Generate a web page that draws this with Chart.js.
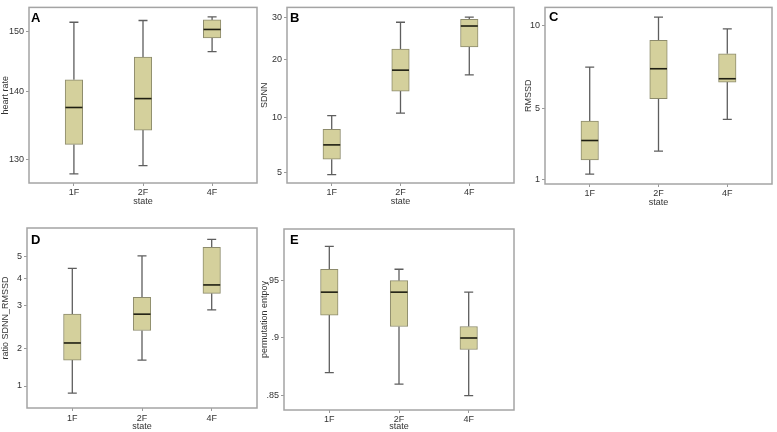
<!DOCTYPE html>
<html><head><meta charset="utf-8">
<script src="https://cdn.jsdelivr.net/npm/chart.js@4.4.1/dist/chart.umd.min.js"></script>
<style>
html,body{margin:0;padding:0;background:#fff;}
#wrap{position:relative;width:777px;height:432px;overflow:hidden;background:#fff;}
canvas{position:absolute;display:block;}
</style></head><body>
<div id="wrap">
<canvas id="cA" width="259" height="216" style="left:0;top:0"></canvas>
<canvas id="cB" width="259" height="216" style="left:259px;top:0"></canvas>
<canvas id="cC" width="259" height="216" style="left:518px;top:0"></canvas>
<canvas id="cD" width="259" height="216" style="left:0;top:216px"></canvas>
<canvas id="cE" width="259" height="216" style="left:259px;top:216px"></canvas>
</div>
<script>
// ---- data: each entry = [lower whisker, Q1, median, Q3, upper whisker] per state ----
const categories = ['1F', '2F', '4F'];
const heartRate = [[127.9, 132.2, 137.6, 141.9, 151.5], [129.1, 134.3, 138.9, 145.7, 151.8], [146.6, 148.9, 150.3, 151.9, 152.4]];
const sdnn = [[4.8, 6.2, 7.5, 8.9, 10.3], [10.7, 14.5, 18.1, 22.4, 28.8], [17.3, 22.9, 27.9, 29.5, 30.0]];
const rmssd = [[1.3, 2.1, 3.2, 4.3, 7.5], [2.6, 5.6, 7.4, 9.1, 10.5], [4.4, 6.6, 6.8, 8.3, 9.8]];
const ratioSdnnRmssd = [[0.81, 1.70, 2.14, 2.81, 4.48], [1.70, 2.43, 2.81, 3.32, 5.04], [2.91, 3.47, 3.78, 5.42, 5.78]];
const permEntropy = [[0.87, 0.92, 0.94, 0.96, 0.98], [0.86, 0.91, 0.94, 0.95, 0.96], [0.85, 0.89, 0.90, 0.91, 0.94]];
// ---- tick labels ----
const heartRateTicks = [130, 140, 150];
const sdnnTicks = [5, 10, 20, 30];
const rmssdTicks = [1, 5, 10];
const ratioTicks = [1, 2, 3, 4, 5];
const entropyTicks = [0.85, 0.9, 0.95];
const entropyTickLabels = ['.85', '.9', '.95'];

// piecewise axis (the original axis spacing between labelled ticks is uneven)
class PiecewiseScale extends Chart.LinearScale {
  static id = 'piecewise';
  static defaults = {};
  buildTicks() { return this.options.tickValues.map(v => ({ value: v })); }
  _frac(v) {
    const k = this.options.knotFracs, t = this.options.tickValues;
    let i = 0;
    if (v <= t[0]) i = 0;
    else if (v >= t[t.length - 1]) i = t.length - 2;
    else { while (v > t[i + 1]) i++; }
    return k[i] + (v - t[i]) * (k[i + 1] - k[i]) / (t[i + 1] - t[i]);
  }
  getPixelForValue(v) { return this.getPixelForDecimal(this._frac(v)); }
  getValueForPixel(p) {
    const d = this.getDecimalForPixel(p), k = this.options.knotFracs, t = this.options.tickValues;
    let i = 0;
    if (d <= k[0]) i = 0; else if (d >= k[k.length - 1]) i = k.length - 2; else { while (d > k[i + 1]) i++; }
    return t[i] + (d - k[i]) * (t[i + 1] - t[i]) / (k[i + 1] - k[i]);
  }
}
Chart.register(PiecewiseScale);

const FONT = 'Liberation Sans, Arial, sans-serif';
const TXT = '#333333';

const boxPlugin = {
  id: 'boxPlugin',
  beforeDatasetsDraw(chart) {
    const stats = chart.options.plugins.boxPlugin.stats;
    const x = chart.scales.x, y = chart.scales.y, ctx = chart.ctx;
    ctx.save();
    ctx.strokeStyle = '#5e5e5e'; ctx.lineWidth = 1.3;
    stats.forEach((s, i) => {
      const cx = x.getPixelForValue(i + 1);
      const yMin = y.getPixelForValue(s[0]), yQ1 = y.getPixelForValue(s[1]);
      const yQ3 = y.getPixelForValue(s[3]), yMax = y.getPixelForValue(s[4]);
      ctx.beginPath();
      ctx.moveTo(cx, yQ1); ctx.lineTo(cx, yMin);
      ctx.moveTo(cx, yQ3); ctx.lineTo(cx, yMax);
      ctx.moveTo(cx - 4.5, yMin); ctx.lineTo(cx + 4.5, yMin);
      ctx.moveTo(cx - 4.5, yMax); ctx.lineTo(cx + 4.5, yMax);
      ctx.stroke();
    });
    ctx.restore();
  },
  afterDatasetsDraw(chart) {
    const stats = chart.options.plugins.boxPlugin.stats;
    const x = chart.scales.x, y = chart.scales.y, ctx = chart.ctx;
    ctx.save();
    ctx.strokeStyle = '#1e1e12'; ctx.lineWidth = 1.6;
    stats.forEach((s, i) => {
      const cx = x.getPixelForValue(i + 1), ym = y.getPixelForValue(s[2]);
      ctx.beginPath(); ctx.moveTo(cx - 8.5, ym); ctx.lineTo(cx + 8.5, ym); ctx.stroke();
    });
    ctx.restore();
  },
  afterDraw(chart) {
    const o = chart.options.plugins.boxPlugin, a = chart.chartArea, ctx = chart.ctx;
    ctx.save();
    ctx.strokeStyle = '#a4a4a4'; ctx.lineWidth = 1.5;
    ctx.strokeRect(a.left, a.top, a.right - a.left, a.bottom - a.top);
    ctx.fillStyle = '#000';
    ctx.font = 'bold 13px ' + FONT;
    ctx.textBaseline = 'alphabetic';
    ctx.fillText(o.letter, a.left + o.lx, a.top + o.ly);
    ctx.restore();
  }
};

function makePanel(id, cfg) {
  const data = cfg.stats.map((s, i) => ({ x: i + 1, y: [s[1], s[3]] }));
  new Chart(document.getElementById(id), {
    type: 'bar',
    data: { datasets: [{ data, backgroundColor: '#d4d09c', borderColor: '#8d8b6c', borderWidth: 1, borderSkipped: false, barThickness: 17.5 }] },
    options: {
      responsive: false, animation: false, devicePixelRatio: 1,
      layout: { padding: { left: 0, top: cfg.padT, right: cfg.padR, bottom: 0 } },
      plugins: { legend: { display: false }, tooltip: { enabled: false },
        boxPlugin: { stats: cfg.stats, letter: cfg.letter, lx: cfg.lx, ly: cfg.ly } },
      scales: {
        x: {
          type: 'linear', min: 0.35, max: 3.65, offset: false,
          afterBuildTicks: s => { s.ticks = categories.map((c, i) => ({ value: i + 1 })); },
          afterFit: s => { s.height = cfg.xH; },
          ticks: { callback: v => categories[v - 1], color: TXT, font: { family: FONT, size: 9 }, padding: cfg.xTickPad, maxRotation: 0, autoSkip: false },
          grid: { display: true, offset: false, drawOnChartArea: false, drawTicks: true, tickLength: 3, color: '#9a9a9a' },
          border: { display: false },
          title: { display: true, text: 'state', color: TXT, font: { family: FONT, size: 9 }, padding: { top: 0, bottom: cfg.xTitlePad } }
        },
        y: {
          type: 'piecewise', tickValues: cfg.ticks, knotFracs: cfg.fracs,
          afterFit: s => { s.width = cfg.yW; },
          ticks: { callback: (v, i) => cfg.tickLabels ? cfg.tickLabels[i] : String(v), color: TXT, font: { family: FONT, size: 9 }, padding: 2, autoSkip: false },
          grid: { display: true, drawOnChartArea: false, drawTicks: true, tickLength: 3, color: '#9a9a9a' },
          border: { display: false },
          title: { display: true, text: cfg.title, color: TXT, font: { family: FONT, size: 9 }, padding: { top: cfg.yTitlePad, bottom: 0 } }
        }
      }
    },
    plugins: [boxPlugin]
  });
}

makePanel('cA', { stats: heartRate, ticks: heartRateTicks, fracs: [0.134, 0.5235, 0.8642], title: 'heart rate', letter: 'A',
  yW: 29, padT: 4, padR: 2, xH: 33, xTickPad: 1, xTitlePad: 9, yTitlePad: 0.6, lx: 2, ly: 14.5 });
makePanel('cB', { stats: sdnn, ticks: sdnnTicks, fracs: [0.0598, 0.3743, 0.7056, 0.9441], title: 'SDNN', letter: 'B',
  yW: 28, padT: 4, padR: 4, xH: 33, xTickPad: 1, xTitlePad: 9, yTitlePad: 0.6, lx: 3, ly: 14.5 });
makePanel('cC', { stats: rmssd, ticks: rmssdTicks, fracs: [0.0263, 0.4263, 0.8978], title: 'RMSSD', letter: 'C',
  yW: 27, padT: 5, padR: 5, xH: 32, xTickPad: 1, xTitlePad: 8, yTitlePad: 5.3, lx: 4, ly: 13.5 });
makePanel('cD', { stats: ratioSdnnRmssd, ticks: ratioTicks, fracs: [0.1222, 0.3278, 0.5667, 0.7167, 0.8406], title: 'ratio SDNN_RMSSD', letter: 'D',
  yW: 27, padT: 12, padR: 2, xH: 24, xTickPad: 2, xTitlePad: 0, yTitlePad: 0, lx: 4, ly: 16 });
makePanel('cE', { stats: permEntropy, ticks: entropyTicks, tickLabels: entropyTickLabels, fracs: [0.079, 0.3978, 0.7144], title: 'permutation entpoy', letter: 'E',
  yW: 25, padT: 13, padR: 4, xH: 22, xTickPad: 1, xTitlePad: 0, yTitlePad: 0.3, lx: 6, ly: 15 });
</script>
</body></html>
